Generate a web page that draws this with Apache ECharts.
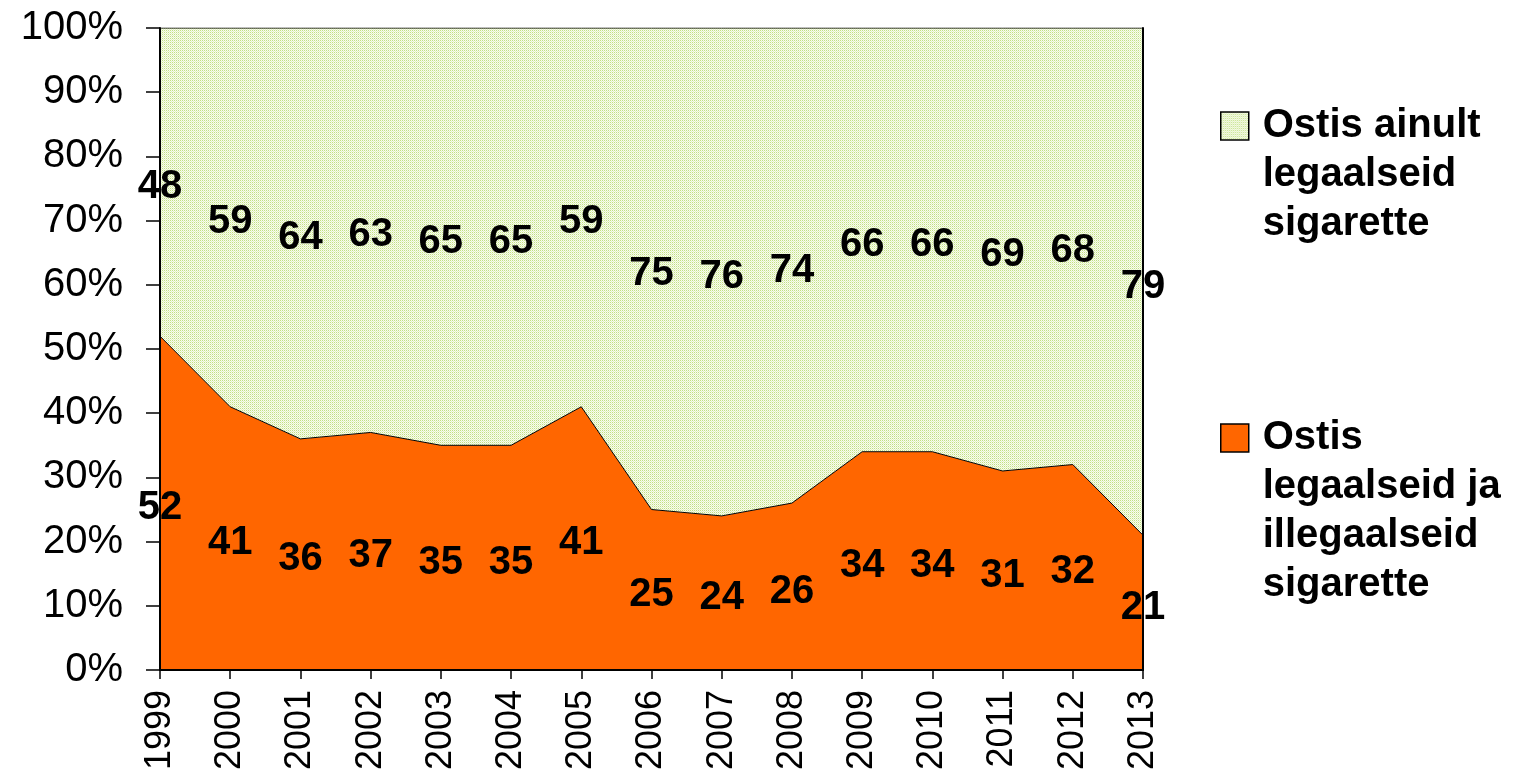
<!DOCTYPE html>
<html>
<head>
<meta charset="utf-8">
<script src="https://cdn.jsdelivr.net/npm/echarts@6/dist/echarts.min.js"></script>
<style>
  html, body { margin: 0; padding: 0; background: #fff; }
  #main { width: 1520px; height: 771px; }
</style>
</head>
<body>
<div id="main"></div>
<script>
// years on the x axis
const years = ['1999', '2000', '2001', '2002', '2003', '2004', '2005', '2006',
               '2007', '2008', '2009', '2010', '2011', '2012', '2013'];
// bought legal and illegal cigarettes (%)
const legalAndIllegal = [52, 41, 36, 37, 35, 35, 41, 25, 24, 26, 34, 34, 31, 32, 21];
// bought only legal cigarettes (%)
const legalOnly = [48, 59, 64, 63, 65, 65, 59, 75, 76, 74, 66, 66, 69, 68, 79];

const nameLegal = 'Ostis ainult\nlegaalseid\nsigarette';
const nameBoth = 'Ostis\nlegaalseid ja\nillegaalseid\nsigarette';

const FONT = "'Liberation Sans', Arial, sans-serif";

// dotted light green fill like the original
function makePattern() {
    const c = document.createElement('canvas');
    c.width = 2;
    c.height = 2;
    const ctx = c.getContext('2d');
    ctx.fillStyle = '#f8fcef';
    ctx.fillRect(0, 0, 2, 2);
    ctx.fillStyle = '#c2e184';
    ctx.fillRect(0, 0, 1, 1);
    ctx.fillStyle = '#e4f2c2';
    ctx.fillRect(1, 1, 1, 1);
    return { image: c, repeat: 'repeat' };
}
const greenFill = makePattern();

// value labels sit in the middle of each band
const bothLabels = legalAndIllegal.map((v, i) => [i, v / 2, v]);
const legalLabels = legalOnly.map((v, i) => [i, legalAndIllegal[i] + v / 2, v]);

const chart = echarts.init(document.getElementById('main'));

const labelStyle = {
    show: true,
    position: 'inside',
    offset: [0, 5],
    fontFamily: FONT,
    fontSize: 40,
    fontWeight: 'bold',
    color: '#000',
    opacity: 1,
    formatter: p => p.value[2]
};

// legend icon sits next to the first line, so pad the text with blank lines above
function legendText(name) {
    const n = name.split('\n').length;
    return ' \n'.repeat(n - 1) + name;
}

chart.setOption({
    animation: false,
    textStyle: { fontFamily: FONT },
    grid: { left: 160, right: 377, top: 28, bottom: 101, outerBoundsMode: 'none' },
    legend: {
        orient: 'vertical',
        left: 1220,
        top: 3.5,
        padding: 0,
        itemWidth: 28,
        itemHeight: 28,
        itemGap: 18,
        icon: 'rect',
        selectedMode: false,
        formatter: legendText,
        itemStyle: { borderColor: '#000', borderWidth: 1.5 },
        textStyle: {
            fontFamily: FONT, fontSize: 40, fontWeight: 'bold', lineHeight: 49,
            color: '#000', padding: [0, 0, 0, 9]
        },
        data: [nameLegal, nameBoth]
    },
    xAxis: [{
        type: 'category',
        data: years,
        boundaryGap: false,
        z: 5,
        axisLine: { lineStyle: { color: '#000', width: 2 } },
        axisTick: { length: 9, lineStyle: { color: '#000', width: 1.5 } },
        axisLabel: { rotate: 90, interval: 0, margin: 20, fontSize: 36, color: '#000', fontFamily: FONT },
        splitLine: { show: false }
    }, {
        type: 'category',
        data: years,
        boundaryGap: false,
        position: 'top',
        z: 5,
        axisLine: { lineStyle: { color: '#000', width: 2 } },
        axisTick: { show: false },
        axisLabel: { show: false }
    }],
    yAxis: [{
        type: 'value',
        min: 0,
        max: 100,
        interval: 10,
        z: 5,
        axisLine: { show: true, lineStyle: { color: '#000', width: 2 } },
        axisTick: { show: true, length: 14, lineStyle: { color: '#000', width: 1.5 } },
        axisLabel: { formatter: '{value}%', margin: 37, fontSize: 40, color: '#000', fontFamily: FONT },
        splitLine: { show: false }
    }, {
        type: 'value',
        min: 0,
        max: 100,
        interval: 10,
        position: 'right',
        z: 5,
        axisLine: { show: true, lineStyle: { color: '#000', width: 2 } },
        axisTick: { show: false },
        axisLabel: { show: false },
        splitLine: { show: false }
    }],
    series: [{
        name: nameBoth,
        type: 'line',
        stack: 'total',
        data: legalAndIllegal,
        symbol: 'none',
        itemStyle: { color: '#ff6600' },
        lineStyle: { color: '#000', width: 1 },
        areaStyle: { color: '#ff6600', opacity: 1 },
        z: 2
    }, {
        name: nameLegal,
        type: 'line',
        stack: 'total',
        data: legalOnly,
        symbol: 'none',
        itemStyle: { color: greenFill },
        lineStyle: { color: '#000', width: 1 },
        areaStyle: { color: greenFill, opacity: 1 },
        z: 2
    }, {
        name: 'labelsBoth',
        type: 'scatter',
        symbolSize: 0,
        data: bothLabels,
        itemStyle: { opacity: 1, color: 'transparent' },
        label: labelStyle,
        silent: true,
        z: 4
    }, {
        name: 'labelsLegal',
        type: 'scatter',
        symbolSize: 0,
        data: legalLabels,
        itemStyle: { opacity: 1, color: 'transparent' },
        label: labelStyle,
        silent: true,
        z: 4
    }]
});
</script>
</body>
</html>
